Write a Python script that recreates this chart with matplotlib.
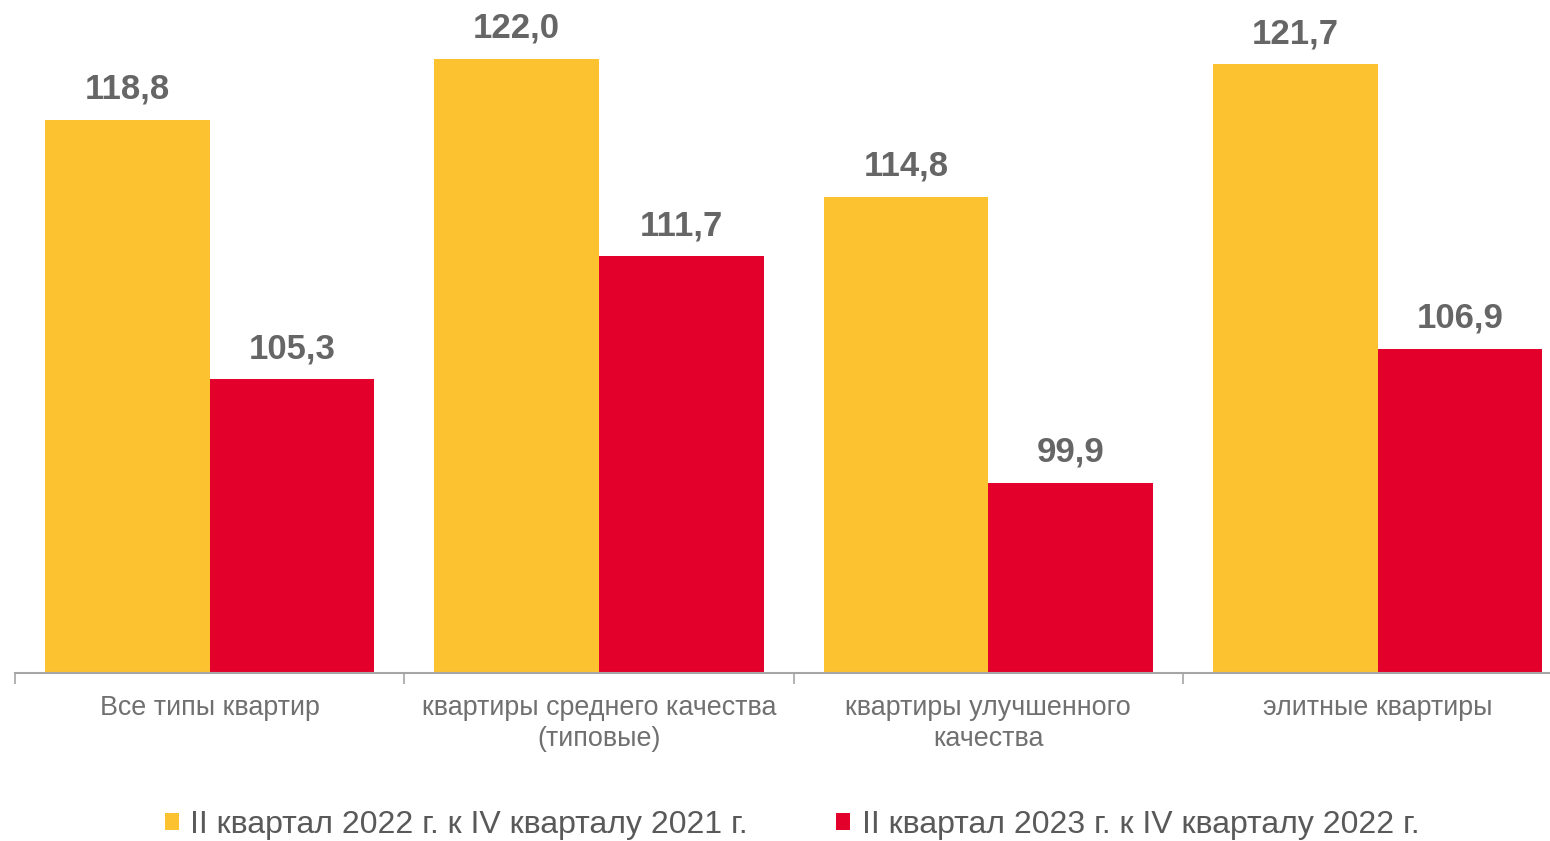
import matplotlib
matplotlib.use("Agg")
import matplotlib.pyplot as plt
import numpy as np

categories = ["Все типы квартир", "квартиры среднего качества\n(типовые)",
              "квартиры улучшенного\nкачества", "элитные квартиры"]
series_names = ["II квартал 2022 г. к IV кварталу 2021 г.",
                "II квартал 2023 г. к IV кварталу 2022 г."]
values_2022 = [118.8, 122.0, 114.8, 121.7]
values_2023 = [105.3, 111.7, 99.9, 106.9]

plt.rcParams['font.family'] = ['Liberation Sans', 'DejaVu Sans']

W, H = 1550, 841
fig = plt.figure(figsize=(W/100, H/100), dpi=100)
ax_left = 15 / W
ax_bottom = (H - 673) / H
ax_width = 4 * 389.3 / W
ax_height = (673 - 1) / H
ax = fig.add_axes([ax_left, ax_bottom, ax_width, ax_height])

yellow = "#FDC22F"
red = "#E3002B"
x = np.arange(len(categories))
bw = 0.4228
b1 = ax.bar(x - bw/2, values_2022, bw, color=yellow, label=series_names[0], zorder=2)
b2 = ax.bar(x + bw/2, values_2023, bw, color=red, label=series_names[1], zorder=2)

for bars, vals in ((b1, values_2022), (b2, values_2023)):
    for rect, v in zip(bars, vals):
        ax.annotate(f"{v:.1f}".replace(".", ","),
                    (rect.get_x() + rect.get_width()/2, v),
                    xytext=(0, 22), textcoords="offset points",
                    ha="center", va="center", fontsize=25, fontweight="bold",
                    color="#666666", annotation_clip=False)

ax.set_ylim(90, 125)
ax.set_xlim(-0.5, len(categories) - 0.5)

ax.set_xticks(np.arange(len(categories) + 1) - 0.5, minor=False)
ax.set_xticklabels([])
ax.set_xticks(x, minor=True)
ax.set_xticklabels(categories, minor=True, fontsize=19.4, color="#707070", linespacing=1.25)
ax.tick_params(axis="x", which="major", length=8, width=1.2, color="#A6A6A6")
ax.tick_params(axis="x", which="minor", length=0, pad=16)
ax.set_yticks([])
for s in ("left", "right", "top"):
    ax.spines[s].set_visible(False)
ax.spines["bottom"].set_color("#A6A6A6")
ax.spines["bottom"].set_linewidth(1.5)

fig.legend(handles=[b1, b2], labels=series_names, loc="center",
           bbox_to_anchor=(792 / W, 1 - 825 / H), ncol=2, frameon=False,
           fontsize=23, handlelength=0.45, handleheight=0.45, handletextpad=0.35,
           columnspacing=2.76, labelcolor="#595959")

fig.savefig("out.png", dpi=100)
